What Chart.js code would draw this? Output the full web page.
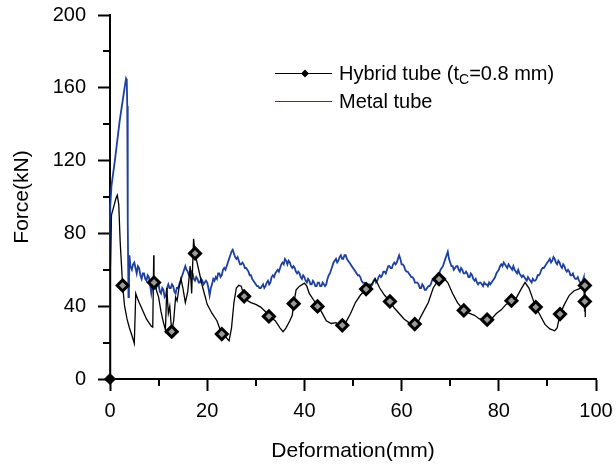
<!DOCTYPE html>
<html>
<head>
<meta charset="utf-8">
<script src="https://cdn.jsdelivr.net/npm/chart.js@4.4.1/dist/chart.umd.min.js"></script>
<style>
  html, body { margin: 0; padding: 0; background: #fff; }
  #wrap { width: 616px; height: 464px; }
</style>
</head>
<body>
<div id="wrap"><canvas id="c" width="616" height="464"></canvas></div>
<script>
// Force–deformation curves of the crushed tubes
const xTickValues = [0, 20, 40, 60, 80, 100];
const yTickValues = [0, 40, 80, 120, 160, 200];
const xMinorTicks = [10, 30, 50, 70, 90];
const yMinorTicks = [20, 60, 100, 140, 180];

const seriesNames = ['Hybrid tube (t', 'C', '=0.8 mm)', 'Metal tube'];

// Metal tube: deformation (mm)
const metalX = [0, 0.05, 0.3, 1, 2, 3, 3.3, 3.45, 3.55, 3.6, 3.7, 3.8, 3.9, 4.0, 4.2,
  4.5, 4.75, 5, 5.25, 5.5, 5.75, 6, 6.25, 6.5, 6.75,
  7, 7.25, 7.5, 7.75, 8, 8.25, 8.5, 8.75, 9, 9.25,
  9.5, 9.75, 10, 10.25, 10.5, 10.75, 11, 11.25, 11.5, 11.75,
  12, 12.25, 12.5, 12.75, 13, 13.25, 13.5, 13.75, 14, 14.25,
  14.5, 14.75, 15, 15.25, 15.5, 15.75, 16, 16.25, 16.5, 16.75,
  17, 17.25, 17.5, 17.75, 18, 18.25, 18.5, 18.75, 19, 19.25,
  19.5, 19.75, 20, 20.25, 20.5, 20.75, 21, 21.25, 21.5, 21.75,
  22, 22.25, 22.5, 22.75, 23, 23.25, 23.5, 23.75, 24, 24.25,
  24.5, 24.75, 25, 25.25, 25.5, 25.75, 26, 26.25, 26.5, 26.75,
  27, 27.25, 27.5, 27.75, 28, 28.25, 28.5, 28.75, 29, 29.25,
  29.5, 29.75, 30, 30.25, 30.5, 30.75, 31, 31.25, 31.5, 31.75,
  32, 32.25, 32.5, 32.75, 33, 33.25, 33.5, 33.75, 34, 34.25,
  34.5, 34.75, 35, 35.25, 35.5, 35.75, 36, 36.25, 36.5, 36.75,
  37, 37.25, 37.5, 37.75, 38, 38.25, 38.5, 38.75, 39, 39.25,
  39.5, 39.75, 40, 40.25, 40.5, 40.75, 41, 41.25, 41.5, 41.75,
  42, 42.25, 42.5, 42.75, 43, 43.25, 43.5, 43.75, 44, 44.25,
  44.5, 44.75, 45, 45.25, 45.5, 45.75, 46, 46.25, 46.5, 46.75,
  47, 47.25, 47.5, 47.75, 48, 48.25, 48.5, 48.75, 49, 49.25,
  49.5, 49.75, 50, 50.25, 50.5, 50.75, 51, 51.25, 51.5, 51.75,
  52, 52.25, 52.5, 52.75, 53, 53.25, 53.5, 53.75, 54, 54.25,
  54.5, 54.75, 55, 55.25, 55.5, 55.75, 56, 56.25, 56.5, 56.75,
  57, 57.25, 57.5, 57.75, 58, 58.25, 58.5, 58.75, 59, 59.25,
  59.5, 59.75, 60, 60.25, 60.5, 60.75, 61, 61.25, 61.5, 61.75,
  62, 62.25, 62.5, 62.75, 63, 63.25, 63.5, 63.75, 64, 64.25,
  64.5, 64.75, 65, 65.25, 65.5, 65.75, 66, 66.25, 66.5, 66.75,
  67, 67.25, 67.5, 67.75, 68, 68.25, 68.5, 68.75, 69, 69.25,
  69.5, 69.75, 70, 70.25, 70.5, 70.75, 71, 71.25, 71.5, 71.75,
  72, 72.25, 72.5, 72.75, 73, 73.25, 73.5, 73.75, 74, 74.25,
  74.5, 74.75, 75, 75.25, 75.5, 75.75, 76, 76.25, 76.5, 76.75,
  77, 77.25, 77.5, 77.75, 78, 78.25, 78.5, 78.75, 79, 79.25,
  79.5, 79.75, 80, 80.25, 80.5, 80.75, 81, 81.25, 81.5, 81.75,
  82, 82.25, 82.5, 82.75, 83, 83.25, 83.5, 83.75, 84, 84.25,
  84.5, 84.75, 85, 85.25, 85.5, 85.75, 86, 86.25, 86.5, 86.75,
  87, 87.25, 87.5, 87.75, 88, 88.25, 88.5, 88.75, 89, 89.25,
  89.5, 89.75, 90, 90.25, 90.5, 90.75, 91, 91.25, 91.5, 91.75,
  92, 92.25, 92.5, 92.75, 93, 93.25, 93.5, 93.75, 94, 94.25,
  94.5, 94.75, 95, 95.25, 95.5, 95.75, 96, 96.25, 96.5, 96.75,
  97, 97.25, 97.5, 97.6, 97.7];
// Metal tube: force (kN)
const metalY = [0, 95, 106, 120, 142, 160, 165, 164, 150, 88, 87, 45, 50, 68, 62,
  60, 63, 64, 61, 58, 62, 61, 57, 55, 58,
  58, 55, 54, 57, 56, 52, 47, 51, 54, 51,
  50, 53, 52, 48, 47, 50, 49, 45, 46, 50,
  52, 50, 50, 52, 51, 48, 47, 50, 50, 52,
  54, 56, 58, 60, 62, 60, 59, 57, 56, 59,
  58, 55, 54, 56, 55, 53, 53, 55, 54, 52,
  53, 54, 53, 50, 46, 50, 52, 55, 54, 56,
  55, 58, 58, 56, 57, 60, 61, 60, 62, 64,
  66, 68, 70, 71, 69, 67, 66, 67, 65, 63,
  63, 64, 63, 61, 61, 60, 59, 57, 57, 55,
  54, 53, 52, 51, 51, 50, 50, 51, 52, 50,
  51, 53, 54, 52, 53, 56, 57, 56, 58, 59,
  60, 59, 61, 63, 64, 63, 66, 65, 63, 65,
  64, 62, 61, 62, 61, 59, 58, 59, 58, 56,
  55, 57, 56, 54, 53, 55, 54, 52, 52, 54,
  53, 51, 51, 53, 53, 51, 51, 53, 52, 51,
  52, 55, 57, 58, 60, 62, 64, 65, 66, 64,
  65, 67, 68, 66, 66, 68, 68, 66, 65, 64,
  63, 62, 61, 60, 59, 58, 57, 57, 56, 54,
  53, 53, 52, 51, 51, 52, 52, 51, 52, 54,
  55, 53, 54, 56, 57, 56, 57, 59, 59, 58,
  60, 62, 62, 61, 61, 63, 64, 63, 64, 66,
  68, 66, 63, 63, 62, 60, 59, 59, 58, 57,
  56, 56, 55, 53, 53, 53, 52, 50, 50, 52,
  51, 49, 49, 50, 51, 51, 52, 54, 55, 54,
  55, 57, 58, 58, 60, 61, 62, 64, 66, 68,
  70, 66, 64, 62, 62, 60, 61, 62, 62, 60,
  59, 61, 60, 58, 58, 59, 58, 56, 56, 58,
  57, 55, 54, 55, 53, 52, 53, 53, 52, 51,
  53, 52, 52, 51, 53, 52, 53, 54, 55, 56,
  58, 59, 60, 62, 63, 62, 64, 63, 62, 61,
  63, 62, 61, 60, 62, 60, 59, 58, 60, 58,
  57, 56, 57, 56, 55, 54, 56, 55, 54, 53,
  55, 54, 54, 55, 57, 57, 58, 60, 61, 61,
  62, 63, 64, 65, 66, 64, 65, 67, 66, 64,
  63, 65, 64, 62, 61, 63, 62, 60, 59, 60,
  59, 57, 57, 58, 56, 55, 55, 56, 54, 53,
  52, 54, 56, 45, 37];

// Hybrid tube: deformation (mm) and force (kN)
const hybridX = [0, 0.1, 0.3, 0.8, 1.2, 1.5, 1.8, 2.1, 2.6, 3.0, 3.5, 4.0, 4.5, 5.0,
  5.3, 5.7, 6.0, 6.5, 7.0, 7.5, 8.0, 8.5, 8.8, 9.0, 9.05, 9.4, 10.0, 10.5, 11.0, 11.4,
  11.7, 12.0, 12.3, 12.7, 13.1, 13.5, 13.8, 14.2, 14.6, 15.0, 15.5, 16.0, 16.5, 16.8,
  17.2, 17.5, 18.0, 18.5, 19.0, 19.5, 20.0, 21.0, 22.0, 23.0, 24.0, 24.5, 25.0, 25.5,
  26.0, 26.5, 27.0, 27.6, 28.0, 29.0, 30.0, 31.0, 32.0, 32.7, 33.5, 34.0, 35.0, 35.6,
  36.2, 37.0, 37.5, 37.8, 38.3, 39.0, 40.0, 40.5, 41.0, 42.0, 42.7, 43.5, 44.5, 45.5,
  46.5, 47.0, 47.8, 48.5, 49.5, 50.5, 51.5, 52.7, 53.5, 54.6, 55.5, 56.5, 57.6, 58.5,
  59.5, 60.5, 61.5, 62.7, 63.5, 64.5, 65.5, 66.5, 67.7, 68.5, 69.5, 70.5, 71.5, 72.8,
  74.0, 75.0, 76.0, 77.6, 78.5, 79.5, 80.5, 81.5, 82.6, 83.5, 84.5, 85.4, 86.2, 87.6,
  88.5, 89.5, 90.5, 91.5, 92.0, 92.6, 93.5, 94.5, 95.5, 96.5, 97.5, 97.7, 97.8];
const hybridY = [0, 60, 90, 95, 99, 101, 96, 75, 51.4, 40, 33, 28, 24, 19.5,
  47, 44, 42, 39, 36, 33, 31, 29, 28.5, 68, 53, 50, 45, 37, 31, 27,
  50, 36, 40, 26, 32, 45, 43, 50, 55, 50, 42, 48, 62, 47,
  77, 69, 63, 57, 51, 46, 41, 36, 32, 24.7, 22.5, 21, 28, 42,
  50, 51.5, 51, 45.4, 43.5, 42, 41, 39.5, 37, 34.4, 33, 32, 28, 26,
  28, 32, 35, 41.4, 49, 51, 52.7, 51, 47, 43, 39.9, 37, 32, 30.5,
  31, 30, 29.5, 31, 36, 42, 46, 49.4, 51, 55, 50, 46, 42.6, 39,
  36, 33, 31, 30.2, 32, 37, 42, 50, 54.9, 56, 53, 47, 42, 37.7,
  36, 35, 33, 32.6, 33, 36, 38, 41, 43, 44, 49, 53, 50, 39.5,
  35, 30, 27.5, 26.5, 28, 35.7, 41, 46, 48.5, 49.5, 51, 51.4, 34];

// Marker positions along the hybrid curve
const markerX = [0, 2.6, 9.05, 12.7, 17.5, 23.0, 27.6, 32.7, 37.8, 42.7, 47.8, 52.7,
  57.6, 62.7, 67.7, 72.8, 77.6, 82.6, 87.6, 92.6, 97.7, 97.7];
const markerY = [0, 51.4, 53, 26, 69, 24.7, 45.4, 34.4, 41.4, 39.9, 29.5, 49.4,
  42.6, 30.2, 54.9, 37.7, 32.6, 43, 39.5, 35.7, 51.4, 42.6];

const FONT = "'Liberation Sans', Arial, Helvetica, sans-serif";
const BLUE = '#1d3f9f';

const zip = (xs, ys) => xs.map((x, i) => ({ x, y: ys[i] }));

// Short minor ticks, axis titles and the legend
const decorations = {
  id: 'decorations',
  afterDraw(chart) {
    const { ctx, scales: { x, y }, chartArea } = chart;
    ctx.save();
    ctx.strokeStyle = '#000';
    ctx.lineWidth = 2;
    ctx.beginPath();
    yMinorTicks.forEach(v => {
      const py = Math.round(y.getPixelForValue(v));
      ctx.moveTo(chartArea.left - 7, py);
      ctx.lineTo(chartArea.left, py);
    });
    xMinorTicks.forEach(v => {
      const px = Math.round(x.getPixelForValue(v));
      ctx.moveTo(px, chartArea.bottom);
      ctx.lineTo(px, chartArea.bottom + 7);
    });
    ctx.stroke();

    // axis titles
    ctx.fillStyle = '#000';
    ctx.font = '21px ' + FONT;
    ctx.textAlign = 'center';
    ctx.textBaseline = 'alphabetic';
    ctx.fillText('Deformation(mm)', (chartArea.left + chartArea.right) / 2, 457);
    ctx.save();
    ctx.translate(28, (chartArea.top + chartArea.bottom) / 2);
    ctx.rotate(-Math.PI / 2);
    ctx.fillText('Force(kN)', 0, 0);
    ctx.restore();

    // legend
    const lx0 = 275, lx1 = 332, tx = 339;
    const row1 = 73, row2 = 101;
    ctx.lineWidth = 1;
    ctx.strokeStyle = '#000';
    ctx.beginPath();
    ctx.moveTo(lx0, row1 + 0.5);
    ctx.lineTo(lx1, row1 + 0.5);
    ctx.stroke();
    ctx.fillStyle = '#000';
    ctx.beginPath();
    const mx = 305, r = 4;
    ctx.moveTo(mx, row1 - r + 0.5);
    ctx.lineTo(mx + r, row1 + 0.5);
    ctx.lineTo(mx, row1 + r + 0.5);
    ctx.lineTo(mx - r, row1 + 0.5);
    ctx.closePath();
    ctx.fill();
    ctx.strokeStyle = BLUE;
    ctx.beginPath();
    ctx.moveTo(lx0, row2 + 0.5);
    ctx.lineTo(lx1, row2 + 0.5);
    ctx.stroke();

    ctx.fillStyle = '#000';
    ctx.textAlign = 'left';
    ctx.textBaseline = 'alphabetic';
    ctx.font = '20px ' + FONT;
    let cx = tx;
    const base1 = row1 + 7, base2 = row2 + 7;
    ctx.fillText(seriesNames[0], cx, base1);
    cx += ctx.measureText(seriesNames[0]).width;
    ctx.font = '14px ' + FONT;
    ctx.fillText(seriesNames[1], cx, base1 + 4);
    cx += ctx.measureText(seriesNames[1]).width;
    ctx.font = '20px ' + FONT;
    ctx.fillText(seriesNames[2], cx, base1);
    ctx.fillText(seriesNames[3], tx, base2);
    ctx.restore();
  }
};

new Chart(document.getElementById('c'), {
  type: 'scatter',
  data: {
    datasets: [
      {
        label: 'markers',
        data: zip(markerX, markerY),
        showLine: false,
        pointStyle: 'rectRot',
        pointRadius: ctx => (ctx.dataIndex === 0 ? 4 : 5.5),
        pointBackgroundColor: ctx => (ctx.dataIndex === 0 ? '#000' : '#9a9a9a'),
        pointBorderColor: '#000',
        pointBorderWidth: 3,
        clip: false,
        order: 0
      },
      {
        label: seriesNames[0] + seriesNames[1] + seriesNames[2],
        data: zip(hybridX, hybridY),
        showLine: true,
        borderColor: '#000',
        borderWidth: 1.3,
        pointRadius: 0,
        tension: 0,
        clip: false,
        order: 1
      },
      {
        label: seriesNames[3],
        data: zip(metalX, metalY),
        showLine: true,
        borderColor: BLUE,
        borderWidth: 1.8,
        pointRadius: 0,
        tension: 0,
        clip: false,
        order: 2
      }
    ]
  },
  options: {
    responsive: false,
    animation: false,
    devicePixelRatio: 1,
    layout: { padding: { left: 0, right: 20, top: 15, bottom: 0 } },
    plugins: { legend: { display: false }, tooltip: { enabled: false } },
    scales: {
      x: {
        type: 'linear',
        min: 0, max: 100,
        afterFit(s) { s.height = 85; s.paddingLeft = 0; s.paddingRight = 0; },
        afterBuildTicks(s) { s.ticks = xTickValues.map(v => ({ value: v })); },
        border: { display: true, color: '#000', width: 2 },
        grid: { display: true, drawOnChartArea: false, drawTicks: true, tickLength: 12, tickWidth: 2, tickColor: '#000' },
        ticks: { color: '#000', font: { family: FONT, size: 20 }, padding: 8, maxRotation: 0 }
      },
      y: {
        type: 'linear',
        min: 0, max: 200,
        afterFit(s) { s.width = 110; s.paddingTop = 0; s.paddingBottom = 0; },
        afterBuildTicks(s) { s.ticks = yTickValues.map(v => ({ value: v })); },
        border: { display: true, color: '#000', width: 2 },
        grid: { display: true, drawOnChartArea: false, drawTicks: true, tickLength: 12, tickWidth: 2, tickColor: '#000' },
        ticks: { color: '#000', font: { family: FONT, size: 20 }, padding: 12 }
      }
    }
  },
  plugins: [decorations]
});
</script>
</body>
</html>
